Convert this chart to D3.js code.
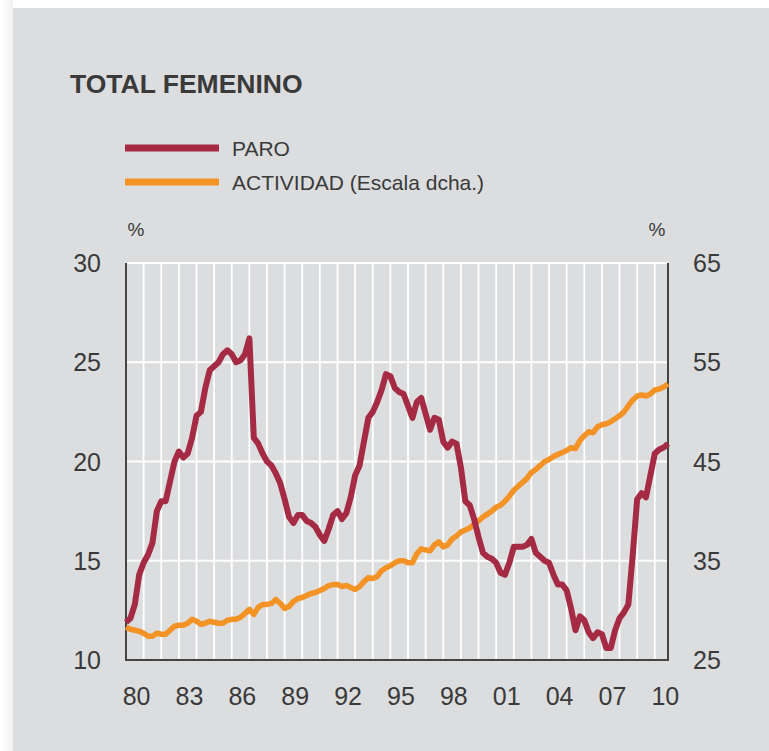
<!DOCTYPE html>
<meta charset="utf-8">
<html>
<head>
<script src="https://d3js.org/d3.v7.min.js"></script>
<style>
  body { margin: 0; background: #fff; }
  text { font-family: "Liberation Sans", Arial, sans-serif; fill: #3a3a3a; }
</style>
</head>
<body>
<svg id="chart" width="769" height="751"></svg>
</body>
</html>
<script>

// Quarterly series, first value = 1980 Q1
var startYear = 1980;
var paro = [
  11.9, 12.1, 12.8, 14.3, 14.9, 15.3, 15.9, 17.5, 18.0, 18.0,
  19.0, 20.0, 20.5, 20.2, 20.4, 21.2, 22.3, 22.5, 23.7, 24.6,
  24.8, 25.0, 25.4, 25.6, 25.4, 25.0, 25.1, 25.4, 26.2, 21.2,
  20.9, 20.4, 20.0, 19.8, 19.4, 18.9, 18.1, 17.2, 16.9, 17.3,
  17.3, 17.0, 16.9, 16.7, 16.3, 16.0, 16.6, 17.3, 17.5, 17.1,
  17.4, 18.2, 19.3, 19.8, 21.0, 22.2, 22.5, 23.0, 23.6, 24.4,
  24.3, 23.7, 23.5, 23.4, 22.8, 22.2, 23.0, 23.2, 22.4, 21.6,
  22.2, 22.1, 21.0, 20.7, 21.0, 20.9, 19.7, 18.0, 17.8, 17.1,
  16.2, 15.4, 15.2, 15.1, 14.9, 14.4, 14.3, 14.9, 15.7, 15.7,
  15.7, 15.8, 16.1, 15.4, 15.2, 15.0, 14.9, 14.3, 13.8, 13.8,
  13.5, 12.6, 11.5, 12.2, 12.0, 11.4, 11.1, 11.4, 11.3, 10.6,
  10.6, 11.5, 12.1, 12.4, 12.8, 15.3, 18.1, 18.4, 18.2, 19.3,
  20.4, 20.6, 20.7, 20.9
];
var actividad = [
  28.3, 28.1, 28.0, 27.9, 27.7, 27.4, 27.4, 27.7, 27.6, 27.6,
  28.0, 28.4, 28.5, 28.5, 28.7, 29.1, 28.9, 28.6, 28.7, 28.9,
  28.8, 28.7, 28.7, 29.0, 29.1, 29.1, 29.3, 29.7, 30.1, 29.6,
  30.3, 30.6, 30.6, 30.7, 31.1, 30.7, 30.2, 30.4, 30.9, 31.2,
  31.3, 31.5, 31.7, 31.8, 32.0, 32.2, 32.5, 32.6, 32.6, 32.4,
  32.5, 32.3, 32.1, 32.4, 32.9, 33.3, 33.2, 33.4, 34.0, 34.3,
  34.5, 34.8, 35.0, 35.0, 34.8, 34.8, 35.7, 36.2, 36.1, 36.0,
  36.6, 36.9, 36.4, 36.6, 37.2, 37.5, 37.9, 38.1, 38.3, 38.7,
  39.0, 39.4, 39.7, 40.0, 40.4, 40.6, 41.0, 41.5, 42.1, 42.5,
  42.9, 43.3, 43.9, 44.2, 44.6, 45.0, 45.2, 45.5, 45.7, 45.9,
  46.1, 46.4, 46.3, 47.1, 47.6, 48.0, 47.9, 48.5, 48.7, 48.8,
  49.0, 49.3, 49.6, 50.0, 50.6, 51.2, 51.6, 51.7, 51.6, 51.8,
  52.2, 52.3, 52.5, 52.8
];

var xTickYears = [1980, 1983, 1986, 1989, 1992, 1995, 1998, 2001, 2004, 2007, 2010];
var xTickLabels = ["80", "83", "86", "89", "92", "95", "98", "01", "04", "07", "10"];
var leftTicks = [10, 15, 20, 25, 30];
var rightTicks = [25, 35, 45, 55, 65];

var seriesNames = ["PARO", "ACTIVIDAD (Escala dcha.)"];
var seriesColors = ["#a52a43", "#f39325"];

var svg = d3.select("#chart");

// soft left edge + background panel
var grad = svg.append("defs").append("linearGradient")
  .attr("id", "edge").attr("x1", 0).attr("x2", 1);
grad.append("stop").attr("offset", 0).attr("stop-color", "#ffffff");
grad.append("stop").attr("offset", 1).attr("stop-color", "#f1f1f2");
svg.append("rect")
  .attr("x", 0).attr("y", 0)
  .attr("width", 13).attr("height", 751)
  .attr("fill", "url(#edge)");
svg.append("rect")
  .attr("x", 13).attr("y", 8)
  .attr("width", 756).attr("height", 743)
  .attr("fill", "#dcdddf");

var x = d3.scaleLinear().domain([1980, 2010.75]).range([126, 668]);
var yL = d3.scaleLinear().domain([10, 30]).range([660, 263]);
var yR = d3.scaleLinear().domain([25, 65]).range([660, 263]);

// title
svg.append("text")
  .attr("x", 70).attr("y", 93)
  .style("font-size", "26.5px")
  .style("font-weight", "bold")
  .text("TOTAL FEMENINO");

// legend
var legend = svg.append("g");
seriesNames.forEach(function(name, i) {
  var ly = 148 + i * 34;
  legend.append("line")
    .attr("x1", 125).attr("x2", 219)
    .attr("y1", ly).attr("y2", ly)
    .attr("stroke", seriesColors[i])
    .attr("stroke-width", 7);
  legend.append("text")
    .attr("x", 232).attr("y", ly + 8)
    .style("font-size", "21px")
    .text(name);
});

// units
svg.append("text").attr("x", 136).attr("y", 236)
  .attr("text-anchor", "middle").style("font-size", "19px").text("%");
svg.append("text").attr("x", 657).attr("y", 236)
  .attr("text-anchor", "middle").style("font-size", "19px").text("%");

// grid
var grid = svg.append("g").attr("stroke", "#ffffff");
d3.range(1981, 2011).forEach(function(yr) {
  grid.append("line")
    .attr("x1", x(yr)).attr("x2", x(yr))
    .attr("y1", yL(30)).attr("y2", yL(10))
    .attr("stroke-width", 1.8);
});
leftTicks.slice(1).forEach(function(v) {
  grid.append("line")
    .attr("x1", x.range()[0]).attr("x2", x.range()[1])
    .attr("y1", yL(v)).attr("y2", yL(v))
    .attr("stroke-width", 2);
});

// axis frame
var frame = svg.append("g").attr("stroke", "#444").attr("stroke-width", 2).attr("fill", "none");
frame.append("path")
  .attr("d", "M" + x.range()[0] + "," + yL(30) + "V" + yL(10) + "H" + x.range()[1] + "V" + yL(30));

// tick labels
svg.append("g").selectAll("text")
  .data(leftTicks).enter().append("text")
    .attr("x", 101)
    .attr("y", function(d) { return yL(d) + 9; })
    .attr("text-anchor", "end")
    .style("font-size", "25px")
    .text(function(d) { return d; });

svg.append("g").selectAll("text")
  .data(rightTicks).enter().append("text")
    .attr("x", 693)
    .attr("y", function(d) { return yR(d) + 9; })
    .style("font-size", "25px")
    .text(function(d) { return d; });

svg.append("g").selectAll("text")
  .data(xTickYears).enter().append("text")
    .attr("x", function(d) { return x(d + 0.6); })
    .attr("y", 705)
    .attr("text-anchor", "middle")
    .style("font-size", "25px")
    .text(function(d, i) { return xTickLabels[i]; });

// lines
var lineL = d3.line()
  .x(function(d, i) { return x(startYear + i / 4); })
  .y(function(d) { return yL(d); });
var lineR = d3.line()
  .x(function(d, i) { return x(startYear + i / 4); })
  .y(function(d) { return yR(d); });

svg.append("path")
  .datum(actividad)
  .attr("d", lineR)
  .attr("fill", "none")
  .attr("stroke", seriesColors[1])
  .attr("stroke-width", 5.5)
  .attr("stroke-linejoin", "round");

svg.append("path")
  .datum(paro)
  .attr("d", lineL)
  .attr("fill", "none")
  .attr("stroke", seriesColors[0])
  .attr("stroke-width", 6)
  .attr("stroke-linejoin", "round");

</script>
